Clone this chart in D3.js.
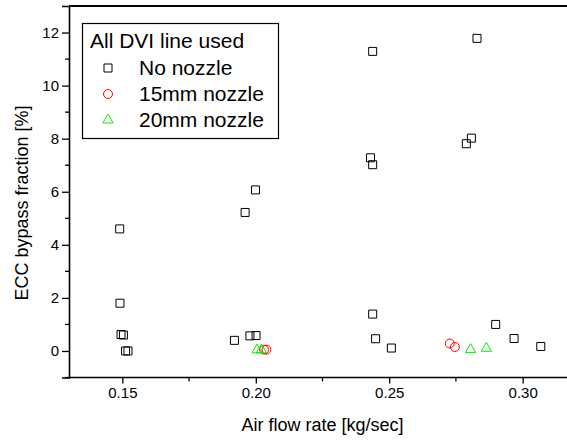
<!DOCTYPE html>
<html>
<head>
<meta charset="utf-8">
<script src="https://cdn.jsdelivr.net/npm/d3@7"></script>
<style>
  body { margin: 0; background: #fff; }
  svg { display: block; font-family: Arial, "Liberation Sans", sans-serif; }
</style>
</head>
<body>
<div id="chart"></div>
<script>
// data: [air flow rate kg/sec, ECC bypass %]
const noNozzle = [
    [0.1490, 4.60], [0.1491, 1.80], [0.1495, 0.62], [0.1504, 0.60], [0.1512, 0.00], [0.1521, 0.00],
    [0.1920, 0.40], [0.1960, 5.22], [0.1978, 0.57], [0.1999, 6.07], [0.2001, 0.58],
    [0.2430, 7.28], [0.2438, 11.29], [0.2438, 7.02], [0.2438, 1.39], [0.2449, 0.46], [0.2508, 0.11],
    [0.2789, 7.81], [0.2808, 8.02], [0.2829, 11.78], [0.2899, 1.00], [0.2968, 0.47], [0.3068, 0.17]
];
const nozzle15 = [[0.2031, 0.05], [0.2040, 0.05], [0.2727, 0.28], [0.2746, 0.15]];
const nozzle20 = [[0.2005, 0.04], [0.2021, 0.04], [0.2805, 0.05], [0.2864, 0.10]];

const xTicks = [0.15, 0.20, 0.25, 0.30];
const xMinor = [0.175, 0.225, 0.275];
const yTicks = [0, 2, 4, 6, 8, 10, 12];
const yMinor = [-1, 1, 3, 5, 7, 9, 11];

const legendTitle = "All DVI line used";
const seriesNames = ["No nozzle", "15mm nozzle", "20mm nozzle"];

const W = 567, H = 441;
const margin = {top: 6, left: 69, bottom: 64};

const svg = d3.select("#chart").append("svg")
    .attr("width", W)
    .attr("height", H);

const x = d3.scaleLinear().domain([0.13, 0.32]).range([margin.left, 576]);
const y = d3.scaleLinear().domain([-1, 13]).range([H - margin.bottom + 0.5, margin.top]);

// bottom axis
const xAxis = svg.append("g")
    .attr("transform", "translate(0," + y(-1) + ")")
    .call(d3.axisBottom(x).tickValues(xTicks).tickFormat(d3.format(".2f")).tickSize(6).tickPadding(4));
xAxis.selectAll(".tick").data(xMinor, d => d).enter().append("line")
    .attr("x1", d => x(d)).attr("x2", d => x(d))
    .attr("y1", 0).attr("y2", 4)
    .attr("stroke", "#000");

// left axis
const yAxis = svg.append("g")
    .attr("transform", "translate(" + margin.left + ",0)")
    .call(d3.axisLeft(y).tickValues(yTicks).tickSize(7).tickPadding(3));
yAxis.append("g").selectAll("line").data(yMinor).enter().append("line")
    .attr("x1", 0).attr("x2", -4)
    .attr("y1", d => y(d)).attr("y2", d => y(d))
    .attr("stroke", "#000");

[xAxis, yAxis].forEach(a => {
    a.select(".domain").attr("stroke-width", 1.6);
    a.selectAll("line").attr("stroke-width", 1.3);
    a.selectAll("text").attr("font-size", 15).attr("fill", "#000")
        .attr("font-family", "Arial, 'Liberation Sans', sans-serif");
});
xAxis.select(".domain").attr("d", "M" + margin.left + ",0H" + W);

// top frame
svg.append("line")
    .attr("x1", margin.left).attr("x2", W)
    .attr("y1", y(13)).attr("y2", y(13))
    .attr("stroke", "#000").attr("stroke-width", 2);

// axis titles
svg.append("text")
    .attr("x", x(0.225)).attr("y", 431)
    .attr("text-anchor", "middle")
    .attr("font-size", 18)
    .text("Air flow rate [kg/sec]");

svg.append("text")
    .attr("transform", "translate(28," + 203 + ") rotate(-90)")
    .attr("text-anchor", "middle")
    .attr("font-size", 18)
    .text("ECC bypass fraction [%]");

// markers
const sym = {
    sq: d3.symbol().type(d3.symbolSquare).size(64),
    ci: d3.symbol().type(d3.symbolCircle).size(62),
    tr: d3.symbol().type(d3.symbolTriangle).size(46)
};
const series = [
    {data: noNozzle, path: sym.sq, color: "#000"},
    {data: nozzle15, path: sym.ci, color: "#ff0000"},
    {data: nozzle20, path: sym.tr, color: "#00ee00"}
];

series.forEach(s => {
    svg.append("g").selectAll("path")
        .data(s.data)
        .enter().append("path")
        .attr("d", s.path())
        .attr("transform", d => "translate(" + x(d[0]) + "," + y(d[1]) + ")")
        .attr("fill", "none")
        .attr("stroke", s.color)
        .attr("stroke-width", 1);
});

// legend
const lg = svg.append("g");
lg.append("rect")
    .attr("x", 82.5).attr("y", 23.5)
    .attr("width", 196).attr("height", 115)
    .attr("fill", "#fff")
    .attr("stroke", "#000").attr("stroke-width", 1.2);
lg.append("text")
    .attr("x", 90).attr("y", 48)
    .attr("font-size", 21)
    .text(legendTitle);
series.forEach((s, i) => {
    const cy = 68 + i * 26;
    lg.append("path")
        .attr("d", s.path())
        .attr("transform", "translate(108," + cy + ")")
        .attr("fill", "none")
        .attr("stroke", s.color);
    lg.append("text")
        .attr("x", 139).attr("y", cy + 6.5)
        .attr("font-size", 21)
        .text(seriesNames[i]);
});
</script>
</body>
</html>
